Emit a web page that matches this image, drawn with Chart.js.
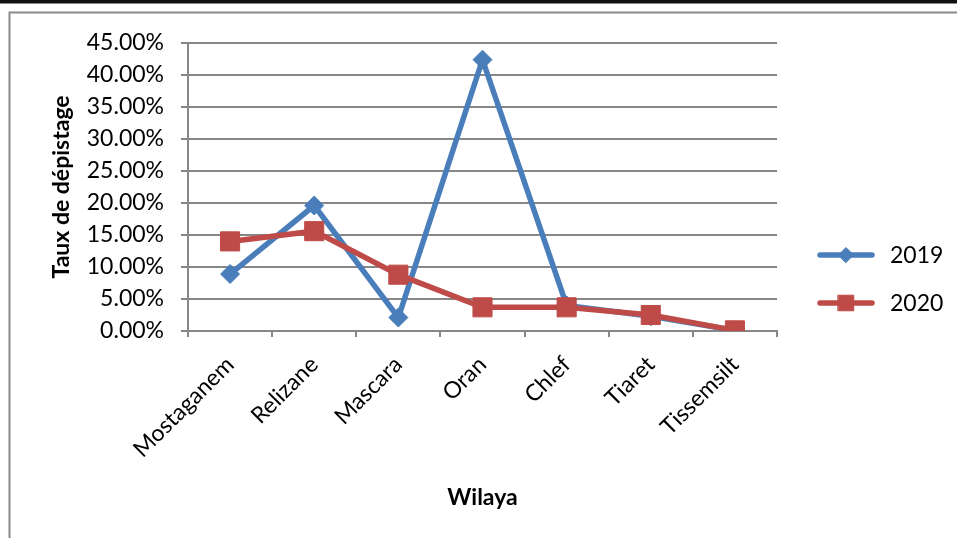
<!DOCTYPE html>
<html>
<head>
<meta charset="utf-8">
<script src="https://cdn.jsdelivr.net/npm/chart.js@4/dist/chart.umd.min.js"></script>
<style>
  html, body { margin: 0; padding: 0; background: #fff; }
  canvas { display: block; }
</style>
</head>
<body>
<canvas id="c" width="957" height="538"></canvas>
<script>
const categories = ["Mostaganem", "Relizane", "Mascara", "Oran", "Chlef", "Tiaret", "Tissemsilt"];
const series2019 = [8.9, 19.6, 2.1, 42.4, 4.0, 2.3, 0.1];
const series2020 = [14.0, 15.6, 8.8, 3.7, 3.7, 2.5, 0.1];
const seriesLabels = ["2019", "2020"];
const yTickValues = [0, 5, 10, 15, 20, 25, 30, 35, 40, 45];
const yTickLabels = ["0.00%", "5.00%", "10.00%", "15.00%", "20.00%", "25.00%", "30.00%", "35.00%", "40.00%", "45.00%"];
const yTitle = "Taux de dépistage";
const xTitle = "Wilaya";

const BLUE = "#4A7EBB";
const RED = "#BE4B48";
const GRID = "#878787";
const FONT = "Lato, 'Open Sans', sans-serif";

const framePlugin = {
  id: "frame",
  beforeDraw(chart) {
    const ctx = chart.ctx;
    ctx.save();
    ctx.fillStyle = "#fff";
    ctx.fillRect(0, 0, chart.width, chart.height);
    ctx.fillStyle = "#111";
    ctx.fillRect(0, 0, chart.width, 3.5);
    ctx.strokeStyle = "#8a8a8a";
    ctx.lineWidth = 2;
    ctx.beginPath();
    ctx.moveTo(9.5, chart.height);
    ctx.lineTo(9.5, 12.5);
    ctx.lineTo(chart.width, 12.5);
    ctx.stroke();
    ctx.restore();
  }
};

const legendPlugin = {
  id: "lineLegend",
  afterDraw(chart) {
    const ctx = chart.ctx;
    ctx.save();
    chart.data.datasets.forEach((ds, i) => {
      const y = 255 + i * 48;
      ctx.strokeStyle = ds.borderColor;
      ctx.lineWidth = 5.5;
      ctx.lineCap = "round";
      ctx.beginPath();
      ctx.moveTo(820, y);
      ctx.lineTo(872, y);
      ctx.stroke();
      ctx.fillStyle = ds.pointBackgroundColor;
      ctx.strokeStyle = ds.pointBorderColor;
      ctx.lineWidth = 1;
      Chart.helpers.drawPoint(ctx, {
        pointStyle: ds.pointStyle,
        radius: ds.pointStyle === "rect" ? 11 : 7.5,
        borderWidth: 1,
        rotation: 0
      }, 846, y);
      ctx.fillStyle = "#000";
      ctx.font = "23px " + FONT;
      ctx.textAlign = "left";
      ctx.textBaseline = "middle";
      ctx.fillText(ds.label, 890, y + 1);
    });
    ctx.restore();
  }
};

new Chart(document.getElementById("c"), {
  type: "line",
  data: {
    labels: categories,
    datasets: [
      {
        label: seriesLabels[0],
        data: series2019,
        borderColor: BLUE,
        backgroundColor: BLUE,
        pointBackgroundColor: BLUE,
        pointBorderColor: BLUE,
        borderWidth: 5.5,
        pointStyle: "rectRot",
        pointRadius: 9.5,
        pointBorderWidth: 1,
        tension: 0,
        order: 2
      },
      {
        label: seriesLabels[1],
        data: series2020,
        borderColor: RED,
        backgroundColor: RED,
        pointBackgroundColor: RED,
        pointBorderColor: RED,
        borderWidth: 5.5,
        pointStyle: "rect",
        pointRadius: 13.5,
        pointBorderWidth: 1,
        tension: 0,
        order: 1
      }
    ]
  },
  options: {
    responsive: false,
    devicePixelRatio: 1,
    animation: false,
    layout: { padding: { top: 43, right: 180, bottom: 0, left: 0 } },
    plugins: {
      legend: { display: false },
      tooltip: { enabled: false }
    },
    scales: {
      x: {
        type: "category",
        offset: true,
        grid: {
          offset: true,
          drawOnChartArea: false,
          drawTicks: true,
          tickLength: 6,
          color: GRID,
          lineWidth: 2
        },
        border: { display: true, color: GRID, width: 2 },
        ticks: {
          minRotation: 45,
          maxRotation: 45,
          autoSkip: false,
          padding: 14,
          color: "#000",
          font: { family: FONT, size: 23 }
        },
        title: {
          display: true,
          text: xTitle,
          color: "#000",
          font: { family: FONT, size: 23, weight: "bold" },
          padding: { top: 0, bottom: 27 }
        },
        afterFit(s) { s.height = 207; }
      },
      y: {
        min: 0,
        max: 45,
        afterBuildTicks(s) { s.ticks = yTickValues.map(v => ({ value: v })); },
        grid: {
          drawOnChartArea: true,
          drawTicks: true,
          tickLength: 7,
          color: GRID,
          lineWidth: 2
        },
        border: { display: true, color: GRID, width: 2 },
        ticks: {
          padding: 17,
          color: "#000",
          font: { family: FONT, size: 23 },
          callback(v) {
            const i = yTickValues.indexOf(v);
            return i >= 0 ? yTickLabels[i] : "";
          }
        },
        title: {
          display: true,
          text: yTitle,
          color: "#000",
          font: { family: FONT, size: 23, weight: "bold" },
          padding: { top: 48, bottom: 0 }
        },
        afterFit(s) { s.width = 188; }
      }
    }
  },
  plugins: [framePlugin, legendPlugin]
});
</script>
</body>
</html>
